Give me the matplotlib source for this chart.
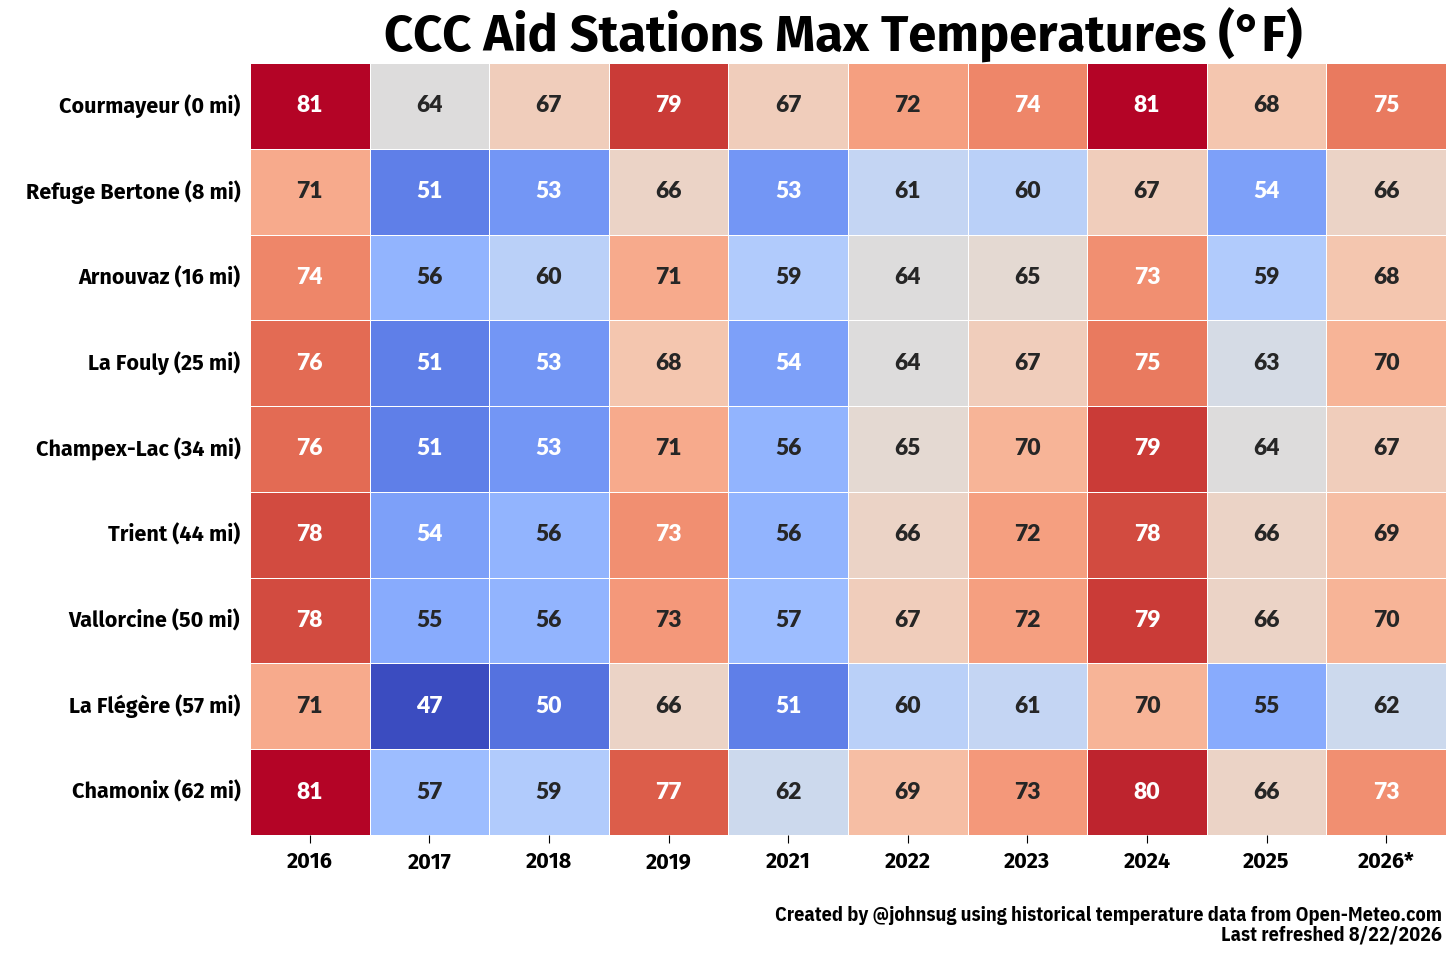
import matplotlib
matplotlib.use("Agg")
import matplotlib.pyplot as plt
import seaborn as sns
import numpy as np
import pandas as pd

stations = ["Courmayeur (0 mi)", "Refuge Bertone (8 mi)", "Arnouvaz (16 mi)",
            "La Fouly (25 mi)", "Champex-Lac (34 mi)", "Trient (44 mi)",
            "Vallorcine (50 mi)", "La Flégère (57 mi)", "Chamonix (62 mi)"]
years = ["2016", "2017", "2018", "2019", "2021", "2022", "2023", "2024", "2025", "2026*"]

courmayeur = [81, 64, 67, 79, 67, 72, 74, 81, 68, 75]
bertone    = [71, 51, 53, 66, 53, 61, 60, 67, 54, 66]
arnouvaz   = [74, 56, 60, 71, 59, 64, 65, 73.4, 59, 68]
la_fouly   = [76, 51, 53, 68, 54, 64, 67, 75, 63, 70]
champex    = [76, 51, 53, 71, 56, 65, 70, 79, 64, 67]
trient     = [78, 54, 56, 73.4, 56, 66, 72, 78, 66, 69]
vallorcine = [78, 55, 56, 72.6, 57, 67, 72, 79, 66, 70]
flegere    = [71, 47, 50, 66, 51, 60, 61, 70, 55, 62]
chamonix   = [81, 57, 59, 77, 62, 69, 72.6, 80, 66, 73.4]

df = pd.DataFrame([courmayeur, bertone, arnouvaz, la_fouly, champex, trient,
                   vallorcine, flegere, chamonix], index=stations, columns=years)

MAIN = ["Fira Sans", "Open Sans", "DejaVu Sans"]
COND = ["IBM Plex Sans Condensed", "Roboto Condensed", "DejaVu Sans"]
ANNOT = ["Lato", "DejaVu Sans"]

fig = plt.figure(figsize=(14.56, 9.6), dpi=100)
ax = fig.add_axes([250/1456, 1-835/960, (1446-250)/1456, (835-63)/960])
sns.heatmap(df, ax=ax, cmap="coolwarm", annot=True, fmt=".0f", cbar=False,
            linewidths=0.7, linecolor="white",
            annot_kws={"fontsize": 16.5, "fontweight": "heavy", "family": ANNOT})
ax.tick_params(axis="y", length=0, pad=7)
ax.tick_params(axis="x", length=6, pad=6)
for lab in ax.get_yticklabels():
    lab.set_rotation(0)
    lab.set_fontsize(15.5)
    lab.set_fontweight("bold")
    lab.set_family(MAIN)
for lab in ax.get_xticklabels():
    lab.set_rotation(0)
    lab.set_fontsize(15.5)
    lab.set_fontweight("bold")
    lab.set_family(MAIN)
ax.set_xlabel("")
ax.set_ylabel("")
fig.text(843/1456, 1-35/960, "CCC Aid Stations Max Temperatures (°F)", ha="center", va="center",
         fontsize=36.5, fontweight="bold", family=MAIN)
fig.text(1442/1456, 1-925/960, "Created by @johnsug using historical temperature data from Open-Meteo.com\nLast refreshed 8/22/2026",
         ha="right", va="center", fontsize=14.5, fontweight="bold", family=COND,
         linespacing=1.05)
fig.savefig("out.png", dpi=100)
